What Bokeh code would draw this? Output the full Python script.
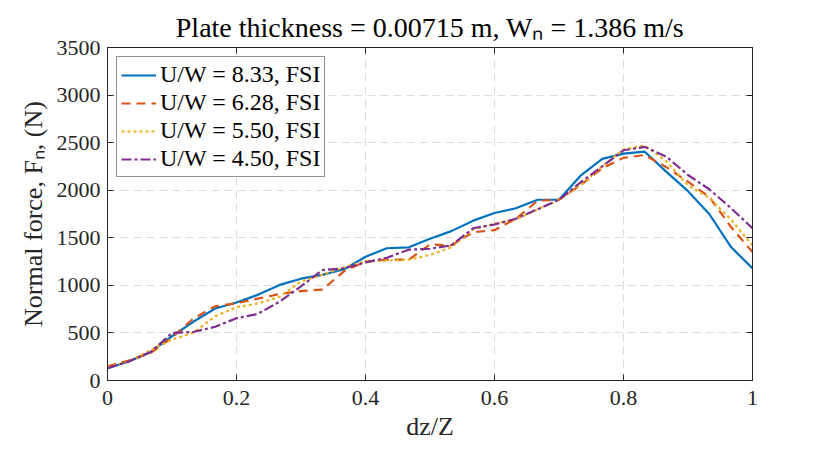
from bokeh.plotting import figure
from bokeh.models import LinearAxis, FixedTicker, Range1d, Legend, LegendItem
from bokeh.embed import file_html
from bokeh.resources import INLINE

# ---- data ----
dz_over_Z = [0, 0.033, 0.067, 0.1, 0.133, 0.167, 0.2, 0.233, 0.267, 0.3,
             0.333, 0.367, 0.4, 0.433, 0.467, 0.5, 0.533, 0.567, 0.6, 0.633,
             0.667, 0.7, 0.733, 0.767, 0.8, 0.833, 0.867, 0.9, 0.933, 0.967, 1.0]

fn_uw833 = [130, 200, 300, 465, 617, 757, 820, 900, 1005, 1070,
            1110, 1170, 1300, 1390, 1400, 1490, 1570, 1680, 1760, 1810,
            1900, 1900, 2150, 2330, 2385, 2405, 2190, 1990, 1750, 1400, 1180]
fn_uw628 = [150, 210, 290, 450, 650, 780, 813, 860, 910, 940,
            955, 1150, 1250, 1270, 1270, 1430, 1420, 1560, 1580, 1700,
            1890, 1900, 2050, 2230, 2340, 2370, 2240, 2090, 1930, 1610, 1350]
fn_uw550 = [140, 200, 320, 430, 500, 675, 770, 810, 880, 1040,
            1110, 1190, 1250, 1260, 1270, 1320, 1400, 1590, 1650, 1690,
            1800, 1900, 2050, 2250, 2430, 2470, 2300, 2050, 1920, 1690, 1420]
fn_uw450 = [130, 200, 300, 500, 510, 565, 655, 700, 830, 990,
            1160, 1180, 1240, 1290, 1375, 1385, 1420, 1600, 1640, 1700,
            1800, 1900, 2080, 2250, 2420, 2455, 2350, 2160, 2010, 1810, 1600]

series_labels = ["U/W = 8.33, FSI", "U/W = 6.28, FSI", "U/W = 5.50, FSI", "U/W = 4.50, FSI"]

x_ticks = [0, 0.2, 0.4, 0.6, 0.8, 1.0]
x_tick_labels = ["0", "0.2", "0.4", "0.6", "0.8", "1"]
y_ticks = [0, 500, 1000, 1500, 2000, 2500, 3000, 3500]
y_tick_labels = ["0", "500", "1000", "1500", "2000", "2500", "3000", "3500"]

title_text = "Plate thickness = 0.00715 m, W\u2099 = 1.386 m/s"
x_label = "dz/Z"
y_label = "Normal force, F\u2099, (N)"

# ---- styles ----
FONT = "Liberation Serif"
AX = "#262626"
colors = ["#0072BD", "#D95319", "#EDB120", "#7E2F8E"]
dashes = ["solid", "9 6", "3 3", "10 3 3 3"]

p = figure(width=830, height=457, output_backend="svg", toolbar_location=None,
           x_range=Range1d(0, 1), y_range=Range1d(0, 3500),
           min_border_left=107, min_border_right=78,
           min_border_top=47, min_border_bottom=77,
           background_fill_color="white", border_fill_color="white")

p.title.text = title_text
p.title.text_font = FONT
p.title.text_font_size = "28px"
p.title.text_font_style = "normal"
p.title.text_color = "black"
p.title.align = "center"

p.outline_line_color = AX
p.outline_line_width = 1

xt = FixedTicker(ticks=x_ticks)
yt = FixedTicker(ticks=y_ticks)

def style_axis(ax, ticker, labels, show_labels):
    ax.ticker = ticker
    ax.axis_line_color = AX
    ax.major_tick_line_color = AX
    ax.major_tick_in = 6
    ax.major_tick_out = 0
    ax.minor_tick_line_color = None
    ax.major_label_text_font = FONT
    if show_labels:
        ax.major_label_overrides = {t: l for t, l in zip(ticker.ticks, labels)}
        ax.major_label_text_color = AX
        ax.major_label_text_font_size = "22px"
    else:
        ax.major_label_text_color = None
        ax.major_label_text_font_size = "1px"
        ax.major_label_standoff = 0

style_axis(p.xaxis[0], xt, x_tick_labels, True)
style_axis(p.yaxis[0], yt, y_tick_labels, True)
p.xaxis[0].major_label_standoff = 10
p.yaxis[0].major_label_standoff = 7

p.xaxis[0].axis_label = x_label
p.yaxis[0].axis_label = y_label
for ax in (p.xaxis[0], p.yaxis[0]):
    ax.axis_label_text_font = FONT
    ax.axis_label_text_font_size = "26px"
    ax.axis_label_text_font_style = "normal"
    ax.axis_label_text_color = AX
p.xaxis[0].axis_label_standoff = 4
p.yaxis[0].axis_label_standoff = 6

top_ax = LinearAxis()
right_ax = LinearAxis()
style_axis(top_ax, xt, x_tick_labels, False)
style_axis(right_ax, yt, y_tick_labels, False)
p.add_layout(top_ax, "above")
p.add_layout(right_ax, "right")

for g in (p.xgrid[0], p.ygrid[0]):
    g.grid_line_color = "#DCDCDC"
    g.grid_line_dash = "8 5"
    g.grid_line_width = 1
p.xgrid[0].ticker = xt
p.ygrid[0].ticker = yt

items = []
for ys, c, d, lab in zip([fn_uw833, fn_uw628, fn_uw550, fn_uw450], colors, dashes, series_labels):
    r = p.line(dz_over_Z, ys, line_color=c, line_width=2.2, line_dash=d)
    items.append(LegendItem(label=lab, renderers=[r]))

leg = Legend(items=items, location="top_left")
leg.label_text_font = FONT
leg.label_text_font_size = "24px"
leg.label_text_color = "black"
leg.border_line_color = AX
leg.border_line_width = 1
leg.background_fill_color = "white"
leg.background_fill_alpha = 1
leg.padding = 4
leg.spacing = 1
leg.glyph_width = 35
leg.glyph_height = 24
leg.label_height = 24
leg.label_standoff = 4
leg.margin = 9
p.add_layout(leg)

open("out.html", "w").write(file_html(p, INLINE))
